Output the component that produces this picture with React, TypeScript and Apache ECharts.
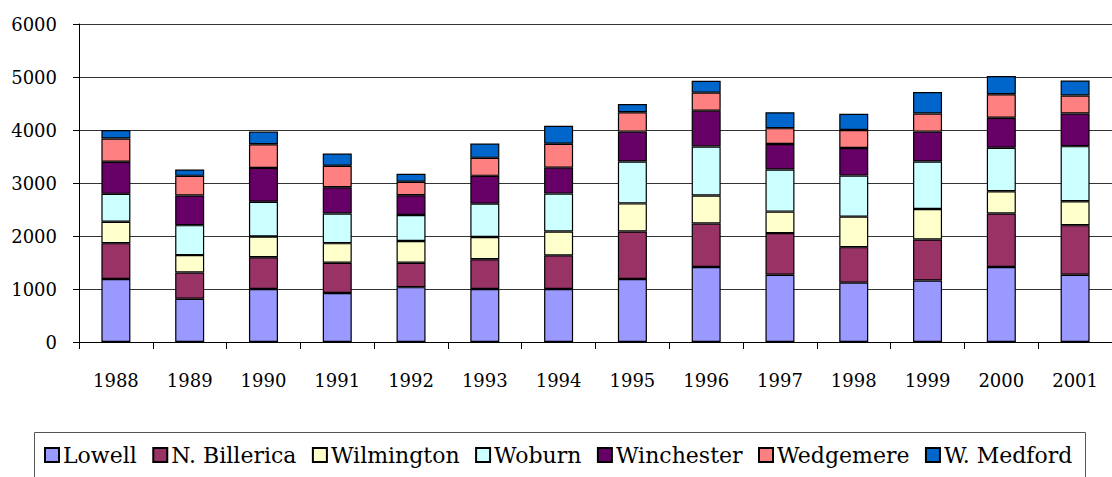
import React, { useEffect, useRef } from "react";
import * as echarts from "echarts";

const years = ["1988","1989","1990","1991","1992","1993","1994","1995","1996","1997","1998","1999","2000","2001"];
const lowell =      [1190, 815, 1000, 925, 1035, 1000, 1000, 1190, 1415, 1270, 1120, 1160, 1415, 1270];
const nBillerica =  [675, 495, 600, 570, 460, 560, 635, 895, 820, 785, 670, 775, 1010, 935];
const wilmington =  [405, 330, 390, 370, 410, 420, 450, 530, 530, 405, 575, 575, 420, 450];
const woburn =      [525, 565, 655, 560, 490, 630, 715, 790, 925, 795, 775, 895, 820, 1040];
const winchester =  [605, 560, 640, 495, 375, 525, 490, 565, 675, 480, 520, 565, 565, 615];
const wedgemere =   [440, 370, 445, 405, 255, 340, 450, 365, 340, 300, 340, 340, 445, 340];
const wMedford =    [160, 120, 240, 230, 150, 270, 340, 155, 225, 300, 305, 405, 345, 285];

const seriesNames = ["Lowell","N. Billerica","Wilmington","Woburn","Winchester","Wedgemere","W. Medford"];
const seriesData = [lowell, nBillerica, wilmington, woburn, winchester, wedgemere, wMedford];
const seriesColors = ["#9999FF","#993366","#FFFFCC","#CCFFFF","#660066","#FF8080","#0066CC"];
const yTicks = { min: 0, max: 6000, interval: 1000 };

const FONT = "'DejaVu Serif', serif";

export default function App() {
  const ref = useRef<HTMLDivElement>(null);
  useEffect(() => {
    if (!ref.current) return;
    const chart = echarts.init(ref.current, null, { renderer: "svg", width: 1112, height: 477 });
    chart.setOption({
      animation: false,
      backgroundColor: "#ffffff",
      grid: { left: 79, top: 24, width: 1039, height: 318, containLabel: false },
      xAxis: {
        type: "category",
        data: years,
        axisLine: { show: true, lineStyle: { color: "#000", width: 1 } },
        axisTick: { show: true, length: 7, lineStyle: { color: "#000" } },
        axisLabel: { color: "#000", fontFamily: FONT, fontSize: 18, margin: 29 },
        splitLine: { show: false },
      },
      yAxis: {
        type: "value",
        min: yTicks.min,
        max: yTicks.max,
        interval: yTicks.interval,
        axisLine: { show: true, lineStyle: { color: "#000", width: 1 } },
        axisTick: { show: true, length: 6, lineStyle: { color: "#000" } },
        axisLabel: {
          color: "#000",
          fontFamily: FONT,
          fontSize: 18,
          margin: 22,
          formatter: (v: number) => String(v),
        },
        splitLine: { show: true, lineStyle: { color: "#333", width: 1 } },
      },
      legend: {
        show: true,
        orient: "horizontal",
        left: 44,
        top: 444,
        padding: 0,
        itemGap: 15.5,
        itemWidth: 14,
        itemHeight: 14,
        icon: "rect",
        textStyle: { color: "#000", fontFamily: FONT, fontSize: 22, padding: [0, 0, 0, -1] },
        data: seriesNames,
      },
      graphic: [
        {
          type: "polyline",
          shape: { points: [[34.5, 490], [34.5, 432.5], [1085.5, 432.5], [1085.5, 490]] },
          style: { fill: null, stroke: "#555", lineWidth: 1 },
          silent: true,
        },
      ],
      series: seriesNames.map((name, i) => ({
        name,
        type: "bar",
        stack: "total",
        barWidth: 29,
        data: seriesData[i],
        itemStyle: { color: seriesColors[i], borderColor: "#000", borderWidth: 1.2 },
        emphasis: { disabled: true },
      })),
    });
    return () => chart.dispose();
  }, []);
  return (
    <div
      ref={ref}
      style={{ position: "absolute", left: 0, top: 0, width: 1112, height: 477 }}
    />
  );
}
